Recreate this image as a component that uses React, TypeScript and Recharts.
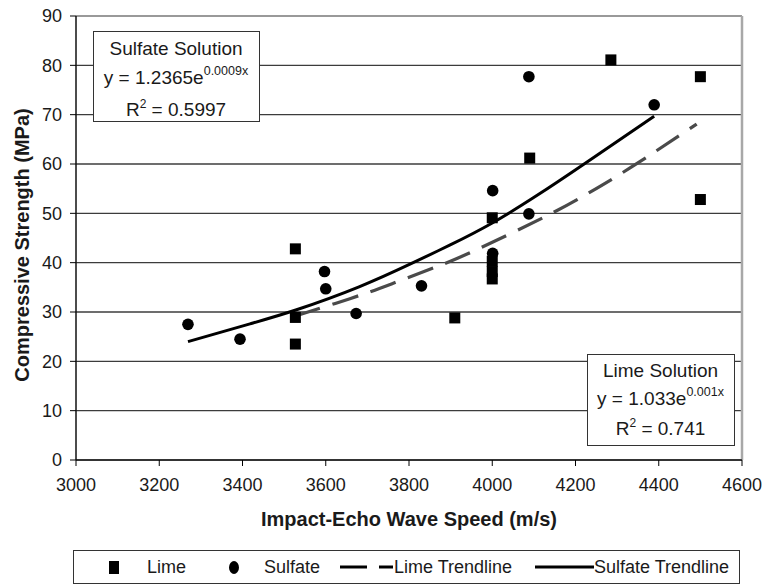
import React from "react"
import {
  CartesianGrid,
  ComposedChart,
  ReferenceLine,
  Scatter,
  XAxis,
  YAxis,
} from "recharts"

// wave speed (m/s) and compressive strength (MPa)
const limeSpeed = [3527, 3527, 3527, 3910, 4000, 4000, 4000, 4000, 4090, 4285, 4500, 4500]
const limeStrength = [42.8, 28.9, 23.5, 28.8, 49.1, 40.3, 38.2, 36.7, 61.2, 81.1, 77.7, 52.8]

const sulfateSpeed = [3269, 3394, 3597, 3600, 3673, 3830, 4001, 4001, 4088, 4088, 4389]
const sulfateStrength = [27.5, 24.5, 38.2, 34.7, 29.7, 35.3, 54.6, 41.9, 77.7, 49.9, 72.0]

const limeTrendSpeed = [3527, 3546, 3658, 3758, 3858, 3959, 4131, 4231, 4331, 4491]
const limeTrendStrength = [29.2, 29.7, 32.7, 35.7, 38.9, 42.5, 49.5, 54.1, 59.2, 68.1]

const sulfateTrendSpeed = [3269, 3418, 3528, 3680, 3810, 3899, 3999, 4107, 4219, 4389]
const sulfateTrendStrength = [24.0, 27.6, 30.4, 35.1, 40.0, 43.6, 48.0, 53.6, 59.9, 69.7]

const xTicks = [3000, 3200, 3400, 3600, 3800, 4000, 4200, 4400, 4600]
const yTicks = [0, 10, 20, 30, 40, 50, 60, 70, 80, 90]

const zip = (xs: number[], ys: number[]) => xs.map((x, i) => ({ x, y: ys[i] }))

const lime = zip(limeSpeed, limeStrength)
const sulfate = zip(sulfateSpeed, sulfateStrength)
const limeTrend = zip(limeTrendSpeed, limeTrendStrength)
const sulfateTrend = zip(sulfateTrendSpeed, sulfateTrendStrength)

const FONT = "'Liberation Sans', Arial, sans-serif"
const INK = "#1a1a1a"

const Square = (p: any) => <rect x={p.cx - 5.5} y={p.cy - 5.5} width={11} height={11} fill="#000" />
const Dot = (p: any) => <circle cx={p.cx} cy={p.cy} r={5.8} fill="#000" />
const Nothing = () => <g />

const XTitle = (p: any) => {
  const vb = p.viewBox
  return (
    <text x={vb.x + vb.width / 2} y={vb.y + 59} textAnchor="middle" dominantBaseline="central"
      fontSize={20} fontWeight="bold" fontFamily={FONT} fill={INK}>
      Impact-Echo Wave Speed (m/s)
    </text>
  )
}

const YTitle = (p: any) => {
  const vb = p.viewBox
  const cx = 22
  const cy = vb.y + vb.height / 2 + 7
  return (
    <text x={cx} y={cy} transform={`rotate(-90, ${cx}, ${cy})`} textAnchor="middle" dominantBaseline="central"
      fontSize={20} fontWeight="bold" fontFamily={FONT} fill={INK}>
      Compressive Strength (MPa)
    </text>
  )
}

const boxStyle: React.CSSProperties = {
  position: "absolute",
  border: "1.5px solid #333",
  background: "#fff",
  boxSizing: "border-box",
  textAlign: "center",
  fontSize: 19,
  color: INK,
  fontFamily: FONT,
}

const sup: React.CSSProperties = { fontSize: 12.5, position: "relative", top: -9 }

function EquationBox(props: { left: number; top: number; width: number; height: number; title: string; a: string; b: string; r2: string; lh: number }) {
  return (
    <div style={{ ...boxStyle, left: props.left, top: props.top, width: props.width, height: props.height, lineHeight: `${props.lh}px`, paddingTop: 2 }}>
      <div>{props.title}</div>
      <div>y = {props.a}e<span style={sup}>{props.b}</span></div>
      <div>R<span style={{ ...sup, fontSize: 12, top: -8 }}>2</span> = {props.r2}</div>
    </div>
  )
}

function LegendBox() {
  const text = (left: number, label: string) => (
    <span style={{ position: "absolute", left: left - 73, top: 0, lineHeight: "32px", fontSize: 18, color: INK }}>{label}</span>
  )
  return (
    <div style={{ position: "absolute", left: 73, top: 550, width: 667, height: 34, border: "1.5px solid #333", boxSizing: "border-box", fontFamily: FONT, background: "#fff" }}>
      <svg width={667} height={32} style={{ position: "absolute", left: 0, top: 0 }}>
        <rect x={108 - 73} y={10} width={10} height={13} fill="#000" />
        <ellipse cx={233 - 73} cy={16.5} rx={5} ry={6.5} fill="#000" />
        <line x1={339 - 73} x2={366 - 73} y1={16} y2={16} stroke="#000" strokeWidth={3} />
        <line x1={378 - 73} x2={392 - 73} y1={16} y2={16} stroke="#000" strokeWidth={3} />
        <line x1={534 - 73} x2={593 - 73} y1={16} y2={16} stroke="#000" strokeWidth={3} />
      </svg>
      {text(146, "Lime")}
      {text(263, "Sulfate")}
      {text(393, "Lime Trendline")}
      {text(593, "Sulfate Trendline")}
    </div>
  )
}

export default function App() {
  return (
    <div style={{ position: "absolute", left: 0, top: 0, width: 766, height: 586, background: "#fff", fontFamily: FONT }}>
      <ComposedChart width={766} height={586} margin={{ top: 16, right: 24, bottom: 86, left: 0 }}>
        <CartesianGrid vertical={false} stroke="#3c3c3c" strokeWidth={1.3} />
        <XAxis
          type="number"
          dataKey="x"
          domain={[3000, 4600]}
          ticks={xTicks}
          allowDataOverflow
          height={40}
          tickSize={6}
          tickMargin={12}
          stroke="#000"
          tickLine={{ stroke: "#000" }}
          axisLine={{ stroke: "#222", strokeWidth: 1.5 }}
          tick={{ fontSize: 18, fill: INK, fontFamily: FONT }}
          label={<XTitle />}
        />
        <YAxis
          type="number"
          dataKey="y"
          domain={[0, 90]}
          ticks={yTicks}
          allowDataOverflow
          width={76}
          tickSize={6}
          tickMargin={8}
          stroke="#000"
          tickLine={{ stroke: "#000" }}
          axisLine={{ stroke: "#111", strokeWidth: 1.5 }}
          tick={{ fontSize: 18, fill: INK, fontFamily: FONT }}
          label={<YTitle />}
        />
        <ReferenceLine y={90} stroke="#a8a8a8" strokeWidth={1.5} />
        <ReferenceLine x={4600} stroke="#a8a8a8" strokeWidth={2.5} />
        <Scatter
          data={limeTrend}
          shape={<Nothing />}
          line={{ stroke: "#4a4a4a", strokeWidth: 3.2, strokeDasharray: "27 13" }}
          lineJointType="natural"
          stroke="#4a4a4a"
          isAnimationActive={false}
        />
        <Scatter
          data={sulfateTrend}
          shape={<Nothing />}
          line={{ stroke: "#000", strokeWidth: 3 }}
          lineJointType="natural"
          stroke="#000"
          isAnimationActive={false}
        />
        <Scatter data={lime} shape={<Square />} isAnimationActive={false} />
        <Scatter data={sulfate} shape={<Dot />} isAnimationActive={false} />
      </ComposedChart>
      <EquationBox left={92.5} top={31} width={167} height={91} lh={29} title="Sulfate Solution" a="1.2365" b="0.0009x" r2="0.5997" />
      <EquationBox left={586.5} top={354} width={148} height={92} lh={28} title="Lime Solution" a="1.033" b="0.001x" r2="0.741" />
      <LegendBox />
    </div>
  )
}
